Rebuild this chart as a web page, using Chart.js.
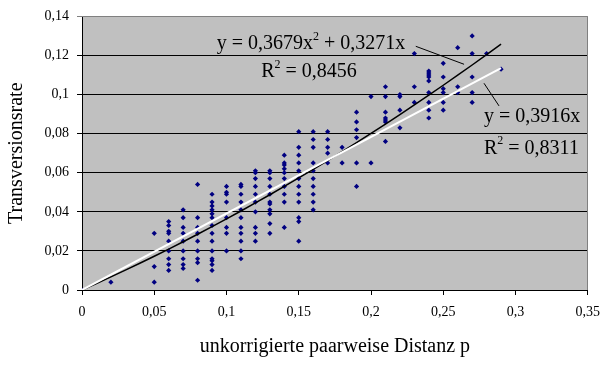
<!DOCTYPE html>
<html>
<head>
<meta charset="utf-8">
<script src="https://cdn.jsdelivr.net/npm/chart.js@4.4.0/dist/chart.umd.min.js"></script>
<style>
body{margin:0;background:#fff;}
canvas{display:block;}
</style>
</head>
<body>
<canvas id="myChart" width="609" height="365"></canvas>
<script>
// uncorrected pairwise distance p (one column of points per value)
var distP = [0, 0.02, 0.05, 0.06, 0.07, 0.08, 0.09, 0.1, 0.11, 0.12, 0.13, 0.14, 0.15,
             0.16, 0.17, 0.18, 0.19, 0.2, 0.21, 0.22, 0.23, 0.24, 0.25, 0.26, 0.27, 0.28, 0.29];
// transversion rates observed at each distance
var transRate = [
  [0],
  [0.004],
  [0.029, 0.012, 0.004],
  [0.035, 0.033, 0.030, 0.029, 0.025, 0.020, 0.016, 0.013, 0.010],
  [0.041, 0.037, 0.032, 0.029, 0.025, 0.020, 0.016, 0.013, 0.011],
  [0.054, 0.037, 0.032, 0.029, 0.025, 0.020, 0.016, 0.014, 0.005],
  [0.049, 0.045, 0.043, 0.041, 0.039, 0.037, 0.033, 0.029, 0.025, 0.020, 0.016, 0.015, 0.013, 0.010],
  [0.053, 0.050, 0.049, 0.045, 0.037, 0.032, 0.029, 0.020],
  [0.054, 0.053, 0.049, 0.045, 0.041, 0.037, 0.032, 0.029, 0.025, 0.020, 0.016],
  [0.061, 0.060, 0.057, 0.053, 0.049, 0.045, 0.040, 0.032, 0.029, 0.025],
  [0.061, 0.060, 0.057, 0.053, 0.049, 0.045, 0.044, 0.041, 0.039, 0.034, 0.029],
  [0.069, 0.065, 0.064, 0.062, 0.060, 0.057, 0.053, 0.049, 0.045, 0.032],
  [0.081, 0.073, 0.069, 0.065, 0.061, 0.057, 0.053, 0.049, 0.045, 0.037, 0.035, 0.025],
  [0.081, 0.077, 0.073, 0.065, 0.061, 0.057, 0.053, 0.049, 0.045, 0.041],
  [0.081, 0.077, 0.073, 0.070, 0.065],
  [0.073, 0.065],
  [0.091, 0.086, 0.082, 0.078, 0.065, 0.053],
  [0.099, 0.065],
  [0.104, 0.099, 0.091, 0.088, 0.087, 0.086, 0.076],
  [0.100, 0.099, 0.092, 0.083],
  [0.121, 0.104, 0.096],
  [0.112, 0.111, 0.110, 0.109, 0.107, 0.101, 0.096, 0.092, 0.088],
  [0.116, 0.109, 0.103, 0.101, 0.096, 0.092],
  [0.124, 0.104, 0.101],
  [0.130, 0.121, 0.109, 0.101, 0.096],
  [0.121],
  [0.113]
];
// trend line coefficients
var polyA = 0.3679, polyB = 0.3271, polyR2 = '0,8456';
var linA = 0.3916, linR2 = '0,8311';

var xTickLabels = ['0', '0,05', '0,1', '0,15', '0,2', '0,25', '0,3', '0,35'];
var yTickLabels = ['0', '0,02', '0,04', '0,06', '0,08', '0,1', '0,12', '0,14'];

var serif = '"Liberation Serif", "Times New Roman", serif';

var points = [];
distP.forEach(function (p, i) {
  transRate[i].forEach(function (r) { points.push({x: p, y: r}); });
});
var pMax = distP[distP.length - 1];

var polyLine = [];
for (var i = 0; i <= 29; i++) {
  var p = pMax * i / 29;
  polyLine.push({x: p, y: polyA * p * p + polyB * p});
}
var linLine = [{x: 0, y: 0}, {x: pMax, y: linA * pMax}];

// grey plot area, frame on top/right
var plotBg = {
  id: 'plotBg',
  beforeDraw: function (chart) {
    var a = chart.chartArea, c = chart.ctx;
    c.save();
    c.fillStyle = '#c0c0c0';
    c.fillRect(a.left, a.top, a.right - a.left, a.bottom - a.top);
    c.restore();
  },
  afterDraw: function (chart) {
    var a = chart.chartArea, c = chart.ctx;
    c.save();
    c.strokeStyle = '#808080';
    c.lineWidth = 1;
    c.beginPath();
    c.moveTo(a.left, Math.round(a.top) + 0.5);
    c.lineTo(Math.round(a.right) - 0.5, Math.round(a.top) + 0.5);
    c.lineTo(Math.round(a.right) - 0.5, a.bottom);
    c.stroke();
    c.restore();
  }
};

// text runs, superscript runs are smaller and raised
function drawRuns(c, runs, x, y, size, align) {
  var w = 0;
  runs.forEach(function (r) {
    c.font = (r.sup ? size * 0.6 : size) + 'px ' + serif;
    r.w = c.measureText(r.t).width;
    w += r.w;
  });
  if (align === 'right') x -= w;
  runs.forEach(function (r) {
    c.font = (r.sup ? size * 0.6 : size) + 'px ' + serif;
    c.fillText(r.t, x, r.sup ? y - size * 0.35 : y);
    x += r.w;
  });
}

var trendNotes = {
  id: 'trendNotes',
  afterDraw: function (chart) {
    var c = chart.ctx, xs = chart.scales.x, ys = chart.scales.y;
    var X = function (v) { return xs.getPixelForValue(v); };
    var Y = function (v) { return ys.getPixelForValue(v); };
    c.save();
    c.fillStyle = '#000';
    c.textBaseline = 'middle';
    var fs = 20;
    drawRuns(c, [{t: 'y = 0,3679x'}, {t: '2', sup: true}, {t: ' + 0,3271x'}], X(0.2237), Y(0.1262), fs, 'right');
    drawRuns(c, [{t: 'R'}, {t: '2', sup: true}, {t: ' = ' + polyR2}], X(0.124), Y(0.1118), fs, 'left');
    drawRuns(c, [{t: 'y = 0,3916x'}], X(0.2782), Y(0.0888), fs, 'left');
    drawRuns(c, [{t: 'R'}, {t: '2', sup: true}, {t: ' = ' + linR2}], X(0.2782), Y(0.0725), fs, 'left');

    c.strokeStyle = '#000';
    c.lineWidth = 1;
    c.beginPath();
    c.moveTo(X(0.231), Y(0.1247));
    c.lineTo(X(0.2644), Y(0.1155));
    c.moveTo(X(0.2782), Y(0.1058));
    c.lineTo(X(0.2886), Y(0.0942));
    c.stroke();
    c.restore();
  }
};

var ctx = document.getElementById('myChart').getContext('2d');
var myChart = new Chart(ctx, {
  type: 'scatter',
  data: {
    datasets: [{
      data: points,
      pointStyle: 'rectRot',
      pointRadius: 2.6,
      backgroundColor: '#000080',
      borderColor: '#000080',
      borderWidth: 0,
      order: 3
    }, {
      data: polyLine,
      showLine: true,
      pointRadius: 0,
      borderColor: '#000',
      borderWidth: 1.5,
      order: 2
    }, {
      data: linLine,
      showLine: true,
      pointRadius: 0,
      borderColor: '#fff',
      borderWidth: 2,
      order: 1
    }]
  },
  options: {
    responsive: false,
    animation: false,
    layout: {padding: {top: 12, right: 20, left: 0, bottom: 0}},
    plugins: {legend: {display: false}, tooltip: {enabled: false}},
    scales: {
      x: {
        type: 'linear',
        min: 0,
        max: 0.35,
        afterFit: function (s) { s.height = 75; },
        ticks: {
          stepSize: 0.05,
          padding: 9,
          color: '#000',
          font: {family: serif, size: 14},
          maxRotation: 0,
          callback: function (v, i) { return xTickLabels[i]; }
        },
        grid: {drawOnChartArea: false, tickLength: 5, color: '#000'},
        border: {color: '#000'},
        title: {
          display: true,
          text: 'unkorrigierte paarweise Distanz p',
          color: '#000',
          font: {family: serif, size: 20},
          padding: {top: 0, bottom: 6}
        }
      },
      y: {
        min: 0,
        max: 0.14,
        afterFit: function (s) { s.width = 82; },
        ticks: {
          stepSize: 0.02,
          padding: 8,
          color: '#000',
          font: {family: serif, size: 14},
          callback: function (v, i) { return yTickLabels[i]; }
        },
        grid: {
          tickLength: 5,
          color: function (c) { return c.tick && c.tick.value > 0.139 ? '#808080' : '#000'; }
        },
        border: {color: '#000'},
        title: {
          display: true,
          text: 'Transversionsrate',
          color: '#000',
          font: {family: serif, size: 20},
          padding: {top: 5, bottom: 0}
        }
      }
    }
  },
  plugins: [plotBg, trendNotes]
});
</script>
</body>
</html>
